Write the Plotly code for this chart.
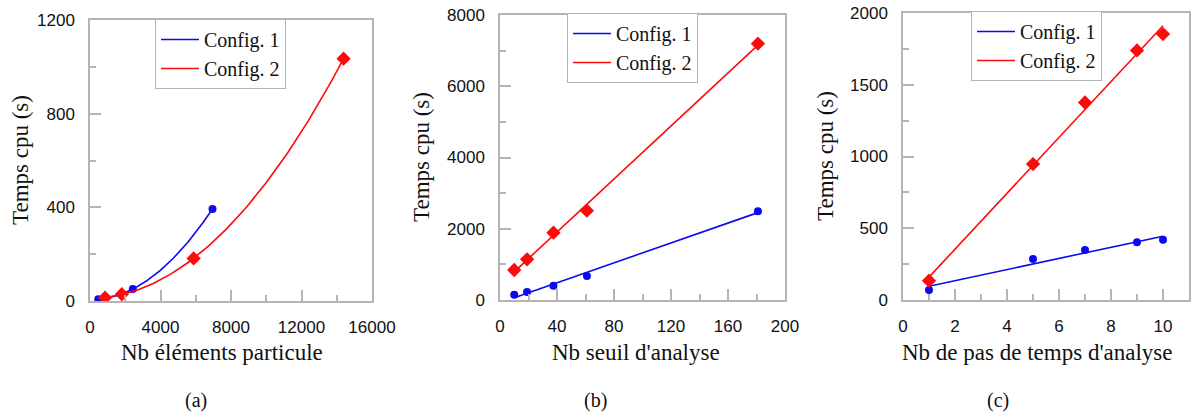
import numpy as np
import plotly.graph_objects as go

# ---------------- data ----------------
# (a) Nb éléments particule
a_x1 = [470, 2430, 6950]
a_y1 = [7, 51, 393]
a_x2 = [854, 1805, 5880, 14390]
a_y2 = [14, 29, 182, 1035]
# (b) Nb seuil d'analyse
b_x = [10, 19, 37.5, 61, 181]
b_y1 = [149, 225, 401, 674, 2490]
b_y2 = [842, 1142, 1889, 2507, 7195]
# (c) Nb de pas de temps d'analyse
c_x = [1, 5, 7, 9, 10]
c_y1 = [70, 286, 349, 402, 419]
c_y2 = [135, 947, 1377, 1739, 1853]

series_names = ["Config. 1", "Config. 2"]
captions = ["(a)", "(b)", "(c)"]
x_titles = ["Nb éléments particule", "Nb seuil d'analyse", "Nb de pas de temps d'analyse"]
y_title = "Temps cpu (s)"

BLUE = "#0a0af0"
RED = "#ff0a0a"
GRID = "#b4b4b4"
W, H = 1193, 417
SERIF = "Liberation Serif, Times New Roman, serif"
SANS = "Liberation Sans, Arial, sans-serif"


def fit_curve(x, y, deg, n):
    c = np.polyfit(x, y, deg)
    xs = np.linspace(min(x), max(x), n)
    return xs, np.polyval(c, xs)


fig = go.Figure()

panels = [
    dict(sets=[(a_x1, a_y1), (a_x2, a_y2)], deg=2, n=100),
    dict(sets=[(b_x, b_y1), (b_x, b_y2)], deg=1, n=2),
    dict(sets=[(c_x, c_y1), (c_x, c_y2)], deg=1, n=2),
]
colors = [BLUE, RED]
symbols = ["circle", "diamond"]
msize = [8, 11]
legends = ["legend", "legend2", "legend3"]

for p, panel in enumerate(panels):
    ax = "" if p == 0 else str(p + 1)
    for s, (x, y) in enumerate(panel["sets"]):
        xs, ys = fit_curve(x, y, panel["deg"], panel["n"])
        fig.add_trace(go.Scatter(
            x=xs, y=ys, mode="lines", name=series_names[s],
            line=dict(color=colors[s], width=1.6),
            xaxis="x" + ax, yaxis="y" + ax,
            legend=legends[p], legendgroup=f"g{p}{s}", showlegend=True))
        fig.add_trace(go.Scatter(
            x=x, y=y, mode="markers",
            marker=dict(color=colors[s], symbol=symbols[s], size=msize[s]),
            xaxis="x" + ax, yaxis="y" + ax, showlegend=False))

# plot areas in pixels (left, right, top, bottom)
boxes = [(90, 372, 20, 301), (500, 785, 15, 300), (903, 1189, 13, 300)]
xranges = [[0, 16000], [0, 200], [0, 11]]
yranges = [[0, 1200], [0, 8000], [0, 2000]]
xdt = [4000, 40, 2]
xmdt = [2000, 20, 1]
ydt = [400, 2000, 500]
ymdt = [200, 1000, 250]

tickfont = dict(family=SANS, size=17, color="#111111")
layout = {}
for p in range(3):
    l, r, t, b = boxes[p]
    ax = "" if p == 0 else str(p + 1)
    common = dict(showline=True, mirror=True, linecolor=GRID, linewidth=1.5,
                  showgrid=False, zeroline=False, ticks="inside", ticklen=11,
                  tickcolor=GRID, tickwidth=1.5, tickfont=tickfont,
                  ticklabelstandoff=10, exponentformat="none", tickformat="d",
                  automargin=False)
    layout["xaxis" + ax] = dict(common, domain=[l / W, r / W], range=xranges[p],
                                dtick=xdt[p], tick0=0, anchor="y" + ax,
                                minor=dict(dtick=xmdt[p], tick0=0, ticks="inside",
                                           ticklen=6, tickcolor=GRID, tickwidth=1.5))
    layout["yaxis" + ax] = dict(common, domain=[1 - b / H, 1 - t / H], range=yranges[p],
                                dtick=ydt[p], tick0=0, anchor="x" + ax,
                                minor=dict(dtick=ymdt[p], tick0=0, ticks="inside",
                                           ticklen=6, tickcolor=GRID, tickwidth=1.5))

leg_pos = [(155, 19), (567, 13), (971, 11)]
for p in range(3):
    lx, ly = leg_pos[p]
    layout[legends[p]] = dict(x=lx / W, y=1 - ly / H, xanchor="left", yanchor="top",
                              bgcolor="white", bordercolor=GRID, borderwidth=1,
                              font=dict(family=SERIF, size=20, color="#111111"),
                              itemwidth=38, tracegroupgap=0, traceorder="grouped")

annotations = []
ytitle_x = [20, 421, 825]
ytitle_y = [160, 157, 156]
xtitle_x = [222, 636, 1037]
cap_x = [196, 595, 998]
for p in range(3):
    annotations.append(dict(text=y_title, x=ytitle_x[p] / W, y=1 - ytitle_y[p] / H,
                            xref="paper", yref="paper", showarrow=False, textangle=-90,
                            font=dict(family=SERIF, size=23, color="#111111"),
                            xanchor="center", yanchor="middle"))
    annotations.append(dict(text=x_titles[p], x=xtitle_x[p] / W, y=1 - 352 / H,
                            xref="paper", yref="paper", showarrow=False,
                            font=dict(family=SERIF, size=23, color="#111111"),
                            xanchor="center", yanchor="middle"))
    annotations.append(dict(text=captions[p], x=cap_x[p] / W, y=1 - 400 / H,
                            xref="paper", yref="paper", showarrow=False,
                            font=dict(family=SERIF, size=20, color="#111111"),
                            xanchor="center", yanchor="middle"))

fig.update_layout(template="none", width=W, height=H, margin=dict(l=0, r=0, t=0, b=0, pad=0),
                  paper_bgcolor="white", plot_bgcolor="white", autosize=False,
                  annotations=annotations, **layout)

fig.write_html("out.html", config={"displayModeBar": False},
               post_script="document.body.style.margin='0';document.body.style.overflow='hidden';")
